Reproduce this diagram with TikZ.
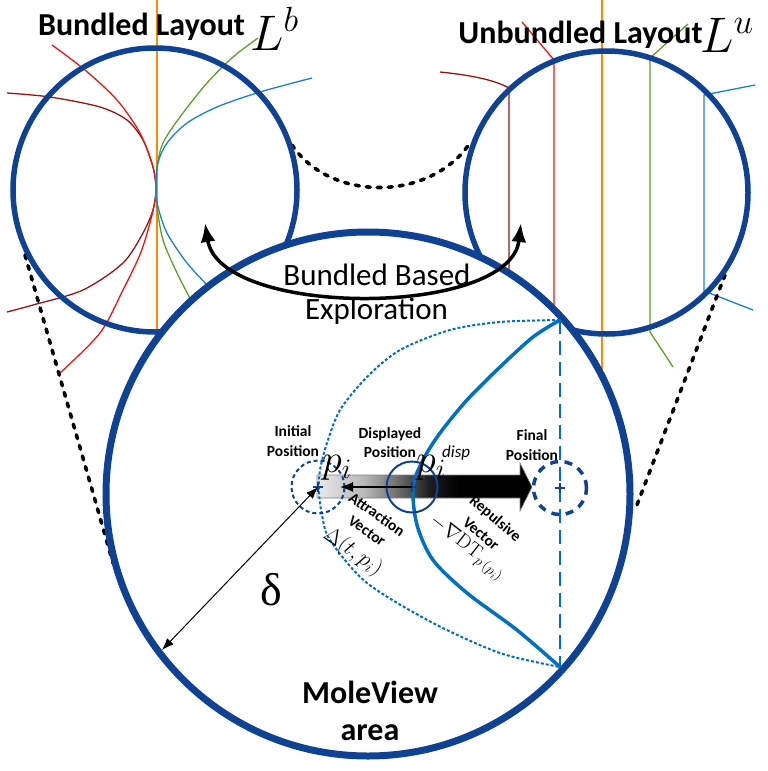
\RequirePackage{fix-cm}
\documentclass[tikz,border=0pt]{standalone}
\usepackage[no-math]{fontspec}
\setmainfont{Carlito}
\newfontfamily\grfont{Liberation Serif}
\usetikzlibrary{arrows.meta}
\definecolor{navy}{RGB}{16,66,148}
\definecolor{lblue}{RGB}{0,112,192}
\definecolor{ered}{RGB}{230,25,20}
\definecolor{edred}{RGB}{150,20,20}
\definecolor{eorange}{RGB}{255,140,0}
\definecolor{egreen}{RGB}{95,160,40}
\definecolor{eblue}{RGB}{20,130,215}
\pgfdeclarehorizontalshading{arrshade}{100bp}{color(0bp)=(black!8); color(25bp)=(black!8); color(36bp)=(black!28); color(45bp)=(black!62); color(51bp)=(black!88); color(58bp)=(black); color(100bp)=(black)}
\begin{document}
\begin{tikzpicture}[x=1pt,y=-1pt,
  edge/.style={line width=1.3pt},
  lens/.style={circle, draw=navy, line width=5.5pt, inner sep=0pt},
  darr/.style={line width=3.6pt, dash pattern=on 4pt off 7pt, line cap=round},
  ttl/.style={font=\fontsize{32}{34}\selectfont\bfseries, inner sep=0pt, anchor=base},
  bigm/.style={font=\fontsize{50}{50}\selectfont, inner sep=0pt, anchor=base west},
  lbl/.style={font=\fontsize{15.5}{17}\selectfont\bfseries, inner sep=0pt, anchor=base},
  midt/.style={font=\fontsize{31}{33}\selectfont, inner sep=0pt, anchor=base},
  bott/.style={font=\fontsize{32}{34}\selectfont\bfseries, inner sep=0pt, anchor=base},
  posring/.style={circle, draw=navy, inner sep=0pt, minimum size=#1},
  plussign/.style={navy, line width=2.4pt},
  ]
\useasboundingbox (0,0) rectangle (768,771);

% ---- edges of the bundled layout
\draw[edge, eorange] (157,0) -- (157,335);
\draw[edge, edred] plot[smooth] coordinates {(7,93) (50,97) (100,107) (127,120) (143,140) (153,167) (156,190) (153,210) (143,233) (123,263) (83,290) (33,305) (7,312)};
\draw[edge, ered] plot[smooth] coordinates {(52,45) (85,70) (117,100) (140,133) (153,167) (156,190) (152,215) (141,252) (123,290) (100,333) (60,373)};
\draw[edge, egreen] plot[smooth] coordinates {(258,38) (233,57) (207,83) (180,117) (163,143) (157,167) (156,190) (157,207) (163,240) (177,273) (192,302)};
\draw[edge, eblue] plot[smooth] coordinates {(312,78) (260,92) (217,107) (187,123) (167,143) (158,163) (156,190) (158,207) (167,233) (187,263) (210,288)};

% ---- edges of the unbundled layout
\draw[edge, edred] (440,72) .. controls (470,75) and (495,80) .. (509,88) -- (509,300);
\draw[edge, ered] (522,22) -- (554,60) -- (554,330);
\draw[edge, eorange] (602,0) -- (602,400);
\draw[edge, egreen] (688,24) -- (650,58) -- (650,332) -- (673,367);
\draw[edge, eblue] (755,85) -- (704,95) -- (704,291) -- (753,310);

% ---- dashed links
\draw[darr] (25,255) -- (113,563);
\draw[darr] (725,275) -- (635,510);
\draw[darr] (292,145) .. controls (330,202) and (430,202) .. (470,143);

% ---- lenses
\node[lens, minimum size=284pt] (lb) at (155,190) {};
\node[lens, minimum size=283pt] (lu) at (606.5,192.5) {};

% ---- MoleView area
\node[circle, draw=navy, fill=white, line width=7pt, minimum size=524pt, inner sep=0pt] (mole) at (368,494) {};

% ---- titles
\node[ttl] (tb) at (141.5,35) {Bundled Layout};
\node[bigm] (Lb) at (250,50) {$L^{b}$};
\node[ttl] (tu) at (580.5,43) {Unbundled Layout};
\node[bigm] (Lu) at (700,52) {$L^{u}$};

% ---- exploration arrow
\coordinate (ea) at (205,223);
\coordinate (eb) at (521,223);
\draw[line width=3.5pt, {Latex[length=19pt,width=15pt]}-{Latex[length=19pt,width=15pt]}] (ea) .. controls (220,318) and (510,318) .. (eb);
\node[midt] (eb1) at (377,285) {Bundled Based};
\node[midt] (eb2) at (376.5,319) {Exploration};

% ---- shaded force arrow
\shade[shading=arrshade, draw=black!50, line width=0.6pt] (317,475) -- (520,475) -- (520,463) -- (532,487) -- (520,511) -- (520,498) -- (317,498) -- cycle;

% ---- curves
\coordinate (ptop) at (560,320);
\coordinate (pbot) at (560,667);
\draw[lblue, line width=2pt, dash pattern=on 3pt off 2pt] plot[smooth] coordinates {(ptop) (500,322) (450,330) (400,350) (367,377) (340,410) (327,443) (320,470) (319,492) (322,515) (330,540) (367,583) (433,623) (500,653) (pbot)};
\draw[lblue, line width=2.6pt, dash pattern=on 14pt off 7pt] (ptop) -- (pbot);
\draw[lblue, line width=3.5pt] plot[smooth] coordinates {(ptop) (533,337) (500,367) (467,400) (440,433) (423,460) (413,487) (417,525) (433,560) (467,593) (517,630) (pbot)};

% ---- positions
\node[posring=53pt, line width=2pt, dash pattern=on 4pt off 3pt] (init) at (318,487) {};
\node[posring=51pt, line width=2pt] (disp) at (412,487) {};
\node[posring=53pt, line width=3.5pt, dash pattern=on 8pt off 6.5pt] (final) at (560,488) {};
\foreach \n in {init,disp,final}
  \draw[plussign] ([xshift=-5pt]\n.center) -- ([xshift=5pt]\n.center)
                  ([yshift=-5pt]\n.center) -- ([yshift=5pt]\n.center);

\draw[line width=1.4pt, -{Latex[length=13pt,width=10pt]}, shorten >=22pt] (disp.center) -- (init.center);
\coordinate (dend) at (162,650);
\draw[line width=1pt, {Latex[length=12pt,width=9pt]}-{Latex[length=12pt,width=9pt]}] (init.center) -- (dend);

% ---- labels
\node[lbl] (li1) at (293,436) {Initial};
\node[lbl] (li2) at (293,456) {Position};
\node[lbl] (ld1) at (390,438) {Displayed};
\node[lbl] (ld2) at (390,457) {Position};
\node[lbl] (lf1) at (532,440) {Final};
\node[lbl] (lf2) at (532,460) {Position};
\node[font=\fontsize{40}{40}\selectfont, inner sep=0pt, anchor=base west] (pi) at (322,472) {$p_i$};
\node[font=\fontsize{40}{40}\selectfont, inner sep=0pt, anchor=base west] (pd) at (416,472) {$p_i$};
\node[font=\fontsize{17}{17}\selectfont\itshape, inner sep=0pt, anchor=base west] (pdsup) at (442,457) {disp};

\node[lbl, anchor=center, rotate=-35] (la1) at (377,514) {Attraction};
\node[lbl, anchor=center, rotate=-35] (la2) at (367,531) {Vector};
\node[font=\fontsize{22}{22}\selectfont, inner sep=0pt, rotate=-35] (la3) at (353,552) {$\Delta(t,p_i)$};
\node[lbl, anchor=center, rotate=-40] (lr1) at (495,519) {Repulsive};
\node[lbl, anchor=center, rotate=-40] (lr2) at (481,534) {Vector};
\node[font=\fontsize{20}{20}\selectfont, inner sep=0pt, rotate=-38] (lr3) at (467,548) {$-\nabla\mathrm{DT}_{p\,(p_i)}$};

\node[font=\fontsize{46}{46}\selectfont\grfont, inner sep=0pt] (delta) at (271,590) {δ};

\node[bott] (m1) at (370,703) {MoleView};
\node[bott] (m2) at (370,740) {area};
\end{tikzpicture}
\end{document}
